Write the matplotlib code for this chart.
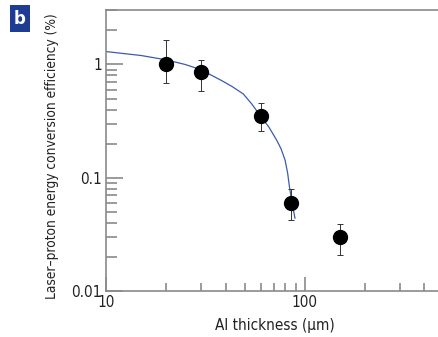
import numpy as np
import matplotlib
matplotlib.use("Agg")
from matplotlib import pyplot as plt
from matplotlib.ticker import FixedLocator, NullFormatter

plt.rcParams['font.family'] = ['DejaVu Sans']
plt.rcParams['font.stretch'] = 'condensed'

# measured points
thickness = [20, 30, 60, 85, 150]
efficiency = [1.0, 0.85, 0.35, 0.06, 0.03]
err_hi = [1.66, 1.1, 0.46, 0.08, 0.039]
err_lo = [0.68, 0.58, 0.26, 0.042, 0.021]

# model curve
curve_x = [10, 15, 20, 25, 30, 38.2, 43, 49, 54, 59.6, 66, 72.3, 76, 79.6, 82, 83.6, 86, 89.3]
curve_y = [1.3, 1.2, 1.1, 1.0, 0.9, 0.72, 0.64, 0.55, 0.45, 0.355, 0.28, 0.214, 0.18, 0.143, 0.11, 0.085, 0.062, 0.044]

fig = plt.figure(figsize=(4.38, 3.37), dpi=100)
ax = fig.add_axes([0.242, 0.1365, 0.771, 0.835])

ax.plot(curve_x, curve_y, color='#3a5bb0', lw=0.9, zorder=2)
yerr = [np.array(efficiency) - np.array(err_lo), np.array(err_hi) - np.array(efficiency)]
ax.errorbar(thickness, efficiency, yerr=yerr, fmt='o', color='black', ms=10,
            ecolor='#333333', elinewidth=0.7, capsize=2.5, capthick=0.7, zorder=3)

ax.set_xscale('log')
ax.set_yscale('log')
ax.set_xlim(10, 500)
ax.set_ylim(0.01, 3.05)

gray = '#8a8a8a'
for s in ['left', 'bottom', 'top']:
    ax.spines[s].set_color(gray)
    ax.spines[s].set_linewidth(1.2)
ax.spines['right'].set_visible(False)

ax.xaxis.set_major_locator(FixedLocator([10, 100]))
ax.xaxis.set_minor_locator(FixedLocator([20, 30, 40, 50, 60, 70, 80, 90, 200, 300, 400]))
ax.set_xticklabels(['10', '100'])
ax.xaxis.set_minor_formatter(NullFormatter())
ax.yaxis.set_major_locator(FixedLocator([0.01, 0.1, 1]))
ax.yaxis.set_minor_locator(FixedLocator([0.02, 0.03, 0.04, 0.05, 0.06, 0.07, 0.08, 0.09,
                                         0.2, 0.3, 0.4, 0.5, 0.6, 0.7, 0.8, 0.9, 2, 3]))
ax.set_yticklabels(['0.01', '0.1', '1'])
ax.yaxis.set_minor_formatter(NullFormatter())

ax.tick_params(which='both', direction='in', color=gray, width=1.2, labelsize=11, pad=3,
               top=False, right=False, labelcolor='#222222')
ax.tick_params(axis='x', which='major', length=10)
ax.tick_params(axis='x', which='minor', length=6)
ax.tick_params(axis='y', which='major', length=12)
ax.tick_params(axis='y', which='minor', length=8)

ax.set_xlabel('Al thickness (μm)', fontsize=11, labelpad=6, color='#222222')
ax.set_ylabel('Laser–proton energy conversion efficiency (%)', fontsize=9.8, labelpad=6,
              color='#222222')
ax.yaxis.set_label_coords(-0.14, 0.48)

fig.text(0.045, 0.945, 'b', color='white', fontsize=12, fontweight='bold',
         ha='center', va='center', fontstretch='normal',
         bbox=dict(boxstyle='square,pad=0.25', fc='#1f3c94', ec='none'))

fig.savefig('out.png', dpi=100)
